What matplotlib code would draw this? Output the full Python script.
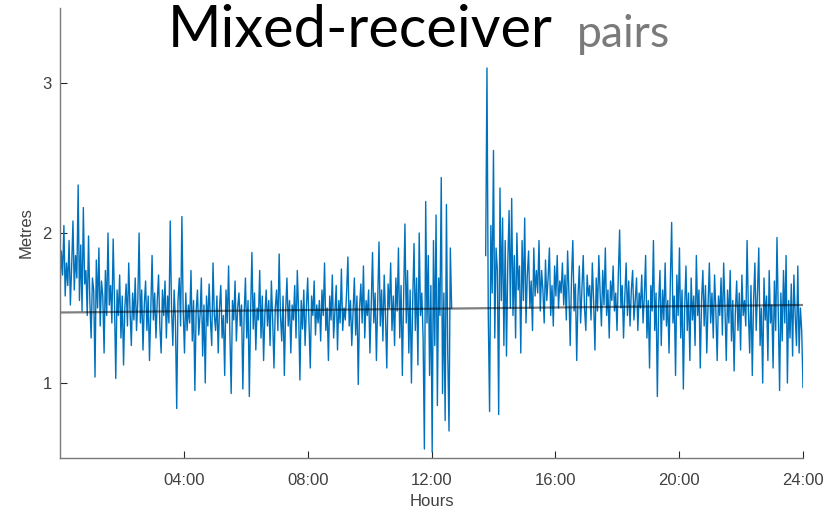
import numpy as np
import matplotlib
matplotlib.use("Agg")
import matplotlib.pyplot as plt
from matplotlib.ticker import FixedLocator

# distance (m) before the data gap, 00:00 -> 12:39
before_gap = [
    1.60, 1.88, 1.72, 2.05, 1.58, 1.80, 1.65, 1.95, 1.52, 1.78, 2.08, 1.62, 1.85, 1.70, 2.32, 1.55, 1.92, 1.48, 2.17, 1.66,
    1.75, 1.45, 1.98, 1.55, 1.30, 1.70, 1.62, 1.04, 1.82, 1.50, 1.90, 1.38, 1.68, 1.58, 1.20, 1.75, 1.45, 2.00, 1.52, 1.65,
    1.40, 1.96, 1.55, 1.03, 1.62, 1.45, 1.72, 1.30, 1.58, 1.12, 1.50, 1.66, 1.38, 1.80, 1.48, 1.25, 1.60, 1.42, 1.70, 1.35,
    1.55, 2.00, 1.40, 1.62, 1.22, 1.52, 1.68, 1.35, 1.58, 1.15, 1.48, 1.85, 1.42, 1.60, 1.30, 1.55, 1.72, 1.38, 1.20, 1.62,
    1.45, 1.68, 1.30, 1.58, 1.40, 2.08, 1.50, 1.25, 1.62, 1.42, 0.83, 1.55, 1.70, 1.38, 2.11, 1.48, 1.20, 1.60, 1.35, 1.52,
    1.40, 1.75, 1.28, 1.55, 0.95, 1.48, 1.62, 1.32, 1.45, 1.70, 1.18, 1.52, 1.00, 1.58, 1.38, 1.66, 1.42, 1.25, 1.80, 1.45,
    1.35, 1.58, 1.20, 1.50, 1.65, 1.30, 1.45, 1.05, 1.62, 1.40, 1.78, 1.33, 0.93, 1.55, 1.42, 1.68, 1.28, 1.50, 1.60, 1.38,
    1.52, 0.96, 1.45, 1.70, 1.30, 1.55, 0.91, 1.48, 1.87, 1.36, 1.60, 1.22, 1.50, 1.42, 1.75, 1.30, 1.58, 1.15, 1.46, 1.62,
    1.38, 1.55, 1.25, 1.68, 1.42, 1.10, 1.50, 1.62, 1.35, 1.86, 1.45, 1.28, 1.58, 1.05, 1.48, 1.70, 1.38, 1.55, 1.20, 1.52,
    1.42, 1.65, 1.30, 1.75, 1.48, 1.02, 1.55, 1.36, 1.62, 1.25, 1.50, 1.70, 1.40, 1.10, 1.58, 1.45, 1.68, 1.32, 1.52, 1.40,
    1.55, 1.28, 1.62, 1.45, 1.80, 1.35, 1.50, 1.15, 1.58, 1.42, 1.72, 1.30, 1.48, 1.65, 1.22, 1.55, 1.40, 1.76, 1.35, 1.50,
    1.42, 1.60, 1.84, 1.38, 1.55, 1.25, 1.48, 1.70, 1.32, 1.58, 0.99, 1.50, 1.66, 1.40, 1.78, 1.30, 1.55, 1.45, 1.62, 1.20,
    1.52, 1.87, 1.40, 1.60, 1.15, 1.55, 1.94, 1.38, 1.62, 1.28, 1.72, 1.45, 1.10, 1.66, 1.50, 1.80, 1.35, 1.58, 1.25, 1.70,
    1.48, 1.90, 1.30, 1.65, 1.05, 1.58, 2.06, 1.40, 1.75, 1.20, 1.62, 1.00, 1.55, 1.93, 1.35, 1.70, 1.12, 2.00, 1.45, 1.60,
    1.30, 0.56, 2.21, 1.40, 1.85, 1.05, 1.65, 0.54, 1.95, 1.25, 2.12, 0.85, 1.70, 1.45, 2.37, 0.93, 1.60, 0.75, 2.19, 1.20,
    0.68, 1.90, 1.50,
]

# distance (m) after the gap, 13:45 -> 24:00
after_gap = [
    1.85, 3.10, 1.45, 0.81, 2.05, 1.60, 2.55, 1.30, 1.90, 1.75, 0.79, 2.30, 1.55, 2.10, 1.25, 1.95, 1.18, 1.80, 2.15, 1.50,
    2.23, 1.45, 1.85, 1.30, 2.00, 1.62, 1.78, 1.20, 1.95, 1.55, 2.10, 1.40, 1.72, 1.88, 1.50, 1.68, 1.35, 1.90, 1.58, 1.75,
    1.60, 1.95, 1.48, 1.75, 1.62, 1.40, 1.82, 1.55, 1.70, 1.90, 1.45, 1.65, 1.38, 1.78, 1.58, 1.85, 1.50, 1.68, 1.60, 1.80,
    1.52, 1.72, 1.42, 1.88, 1.60, 1.25, 1.70, 1.95, 1.48, 1.66, 1.15, 1.58, 1.78, 1.40, 1.62, 1.85, 1.50, 1.35, 1.72, 1.58,
    1.65, 1.42, 1.80, 1.55, 1.22, 1.70, 1.48, 1.85, 1.60, 1.38, 1.75, 1.52, 1.90, 1.45, 1.62, 1.30, 1.68, 1.55, 1.78, 1.48,
    1.60, 1.35, 1.72, 2.02, 1.50, 1.65, 1.30, 1.58, 1.80, 1.45, 1.68, 1.38, 1.62, 1.75, 1.42, 1.55, 1.70, 1.35, 1.60, 1.50,
    1.72, 1.40, 1.58, 1.85, 1.30, 1.55, 1.10, 1.65, 1.48, 1.95, 1.35, 1.60, 0.91, 1.52, 1.75, 1.25, 1.62, 1.42, 1.80, 1.38,
    1.55, 1.20, 1.68, 2.07, 1.40, 1.58, 1.05, 1.72, 1.45, 1.90, 1.30, 1.62, 0.96, 1.50, 1.78, 1.35, 1.60, 1.15, 1.70, 1.42,
    1.58, 1.25, 1.85, 1.45, 1.62, 1.10, 1.55, 1.75, 1.38, 1.65, 1.20, 1.52, 1.80, 1.40, 1.60, 1.30, 1.72, 1.48, 1.15, 1.58,
    1.45, 1.70, 1.32, 1.80, 1.50, 1.15, 1.62, 1.40, 1.75, 1.28, 1.55, 1.08, 1.48, 1.68, 1.35, 1.60, 1.22, 1.72, 1.45, 1.55,
    1.38, 1.95, 1.48, 1.20, 1.65, 1.05, 1.55, 1.80, 1.35, 1.60, 1.90, 1.25, 1.50, 1.00, 1.70, 1.42, 1.58, 1.15, 1.75, 1.40,
    1.52, 1.10, 1.68, 1.35, 1.97, 1.45, 0.95, 1.60, 1.28, 1.75, 1.40, 1.85, 1.00, 1.55, 1.30, 1.66, 1.18, 1.72, 1.45, 1.25,
    1.78, 1.20, 1.50, 1.35, 0.97,
]

gap_start_h = 12.65
gap_end_h = 13.75
trend = [1.47, 1.52]          # fitted line, metres at 00:00 and 24:00
hour_ticks = [4, 8, 12, 16, 20, 24]
hour_labels = ["04:00", "08:00", "12:00", "16:00", "20:00", "24:00"]
metre_ticks = [1, 2, 3]

t1 = np.linspace(0, gap_start_h, len(before_gap))
t2 = np.linspace(gap_end_h, 24, len(after_gap))
hours = np.concatenate([t1, [np.nan], t2])
metres = np.concatenate([before_gap, [np.nan], after_gap])

fig = plt.figure(figsize=(8.32, 5.14), dpi=100)
ax = fig.add_axes([60 / 832, 56 / 514, 743 / 832, 450 / 514])

ax.plot(hours, metres, color="#0072BD", lw=1.0)
ax.plot([0, 24], trend, color="black", lw=1.6, alpha=0.5)

ax.set_xlim(0, 24)
ax.set_ylim(0.5, 3.5)
ax.xaxis.set_major_locator(FixedLocator(hour_ticks))
ax.set_xticklabels(hour_labels)
ax.yaxis.set_major_locator(FixedLocator(metre_ticks))

for s in ["top", "right"]:
    ax.spines[s].set_visible(False)
for s in ["left", "bottom"]:
    ax.spines[s].set_color("#7a7a7a")
    ax.spines[s].set_linewidth(1.0)
ax.tick_params(direction="in", length=5, color="#262626", labelsize=12,
               labelcolor="#404040")
ax.tick_params(axis="x", pad=11)
ax.tick_params(axis="y", pad=6)
for lab in ax.get_xticklabels() + ax.get_yticklabels():
    lab.set_family("Liberation Sans")

ax.set_xlabel("Hours", fontsize=12, color="#404040", family="Liberation Sans",
              labelpad=4)
ax.set_ylabel("Metres", fontsize=12, color="#404040", family="Liberation Sans",
              labelpad=6)

fig.text(553 / 832, 1 - 47 / 514, "Mixed-receiver", ha="right", va="baseline",
         fontsize=41.5, family="Lato", color="black")
fig.text(577 / 832, 1 - 47 / 514, "pairs", ha="left", va="baseline",
         fontsize=32, family="Lato", color="#7a7a7a")

fig.savefig("out.png", dpi=100)
